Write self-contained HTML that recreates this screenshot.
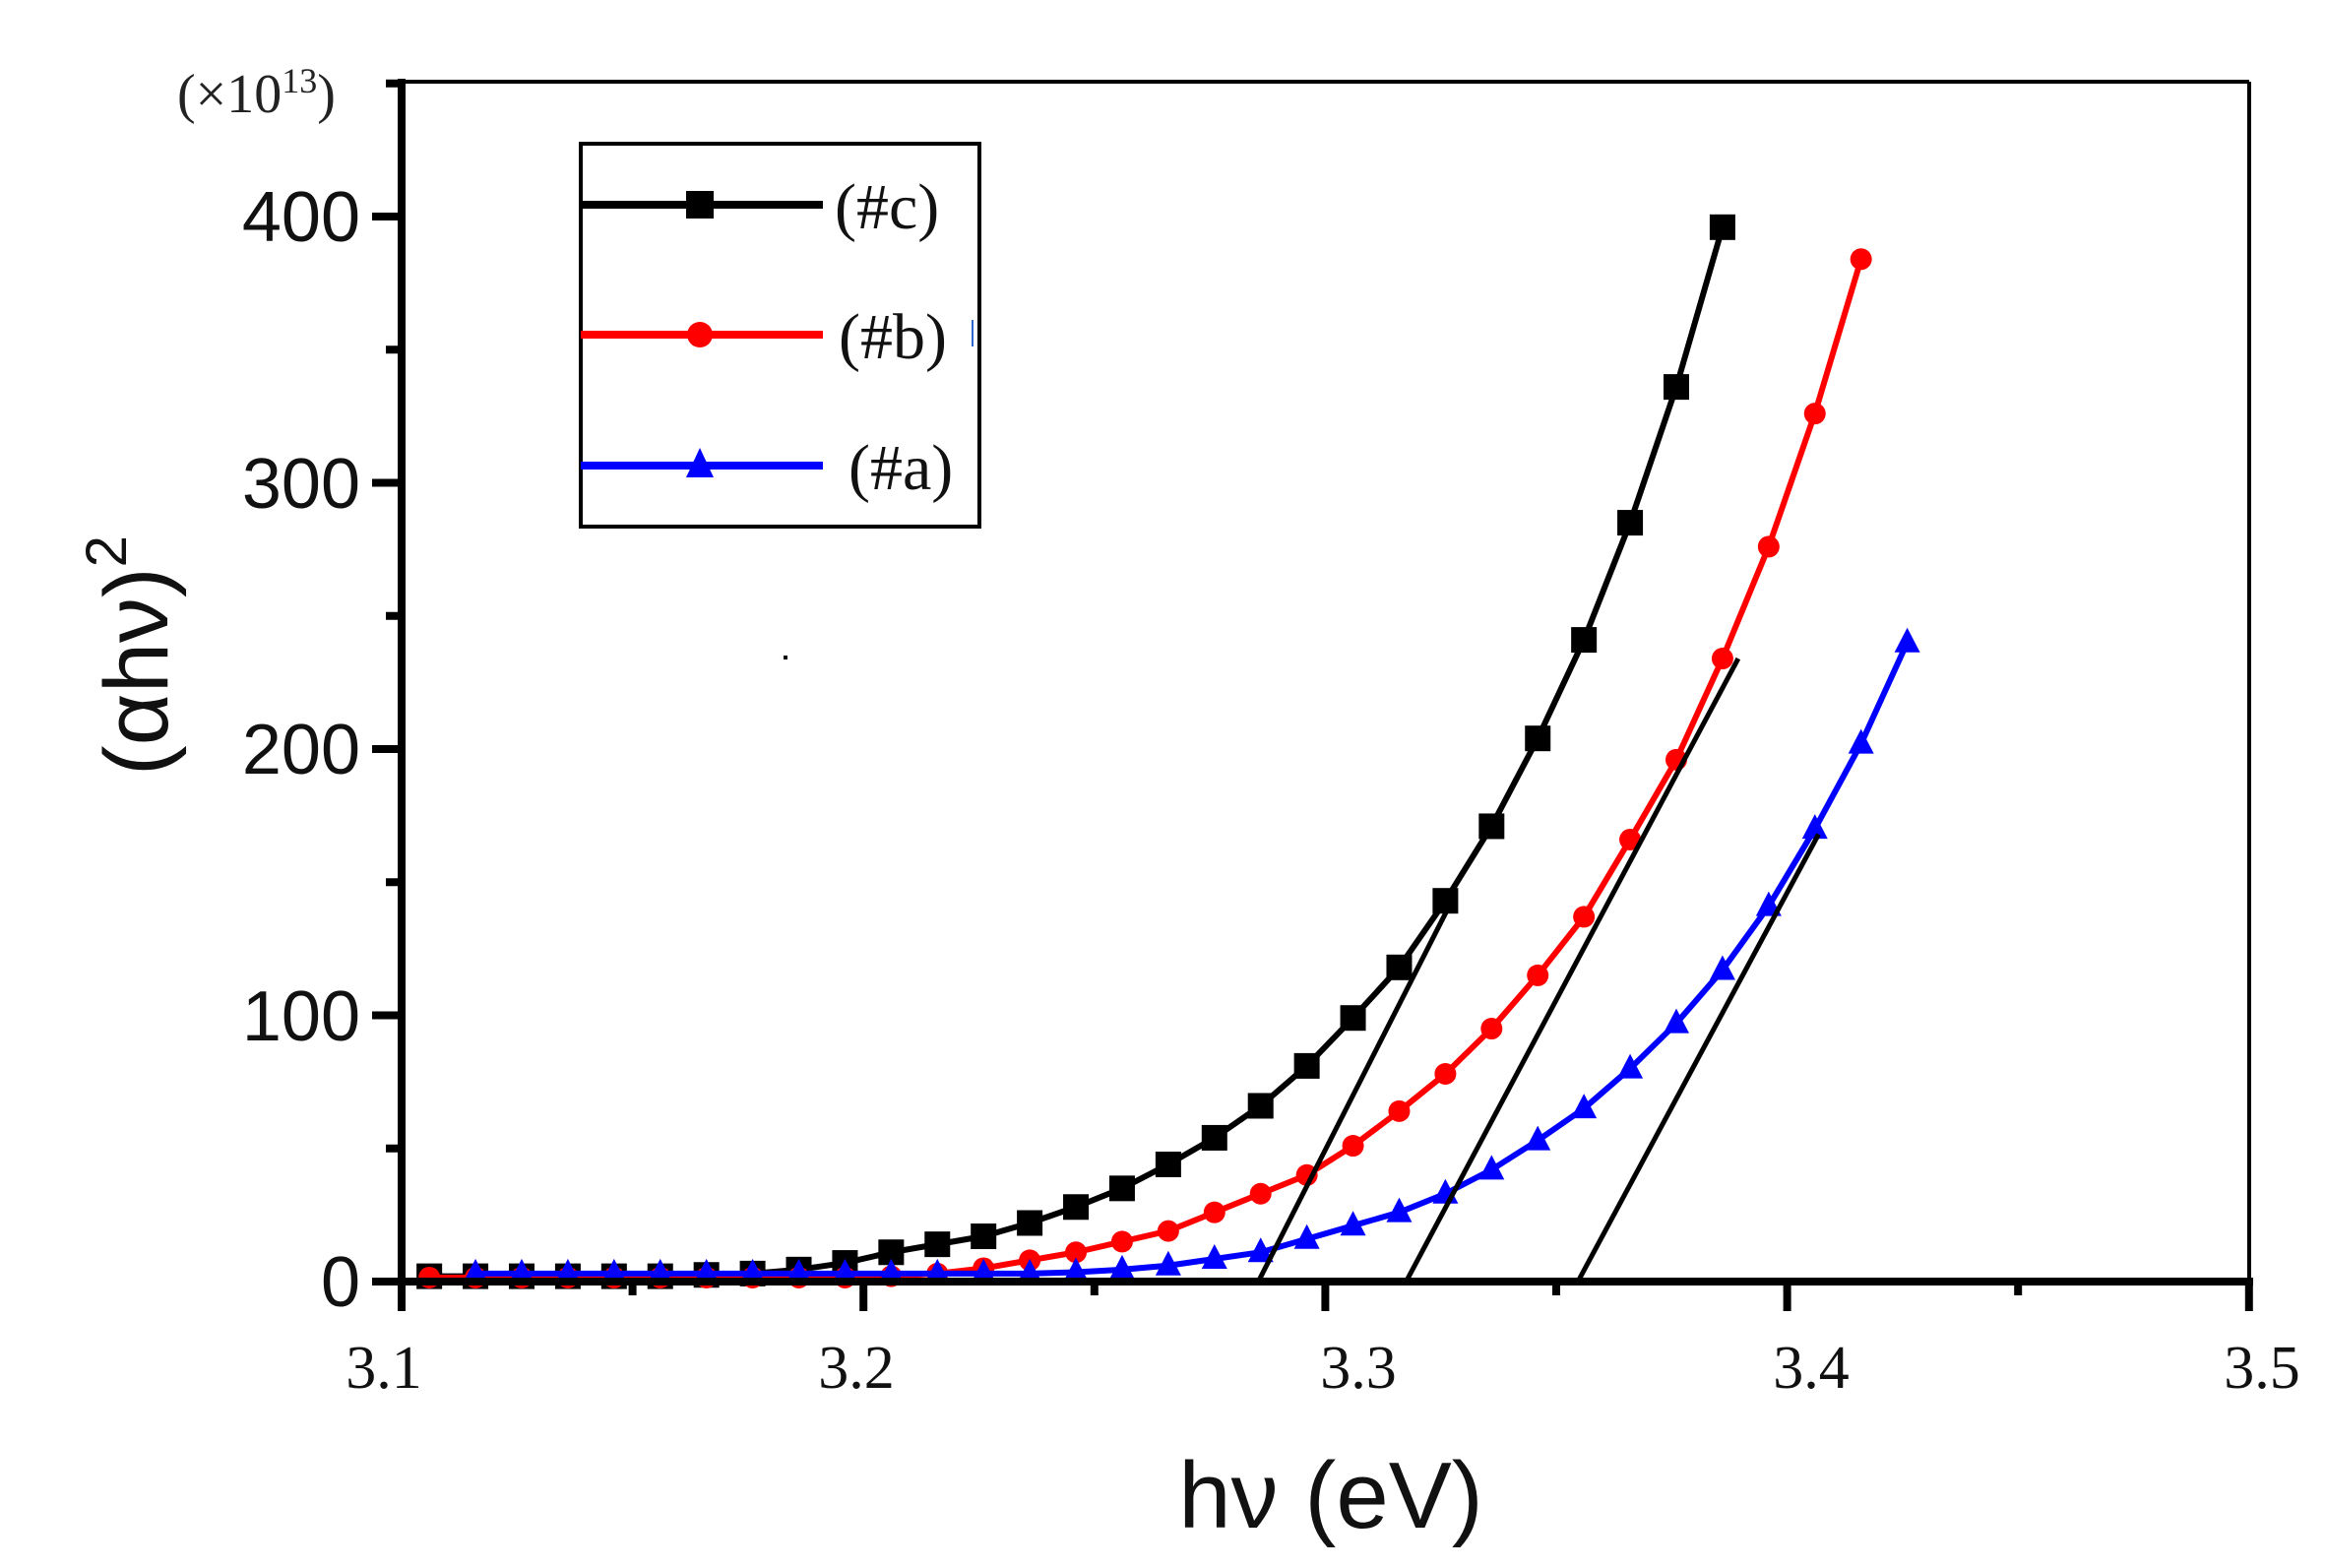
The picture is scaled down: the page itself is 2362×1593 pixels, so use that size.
<!DOCTYPE html>
<html><head><meta charset="utf-8"><style>
html,body{margin:0;padding:0;background:#fff;}
svg{display:block;}
</style></head><body>
<svg id="s" width="2362" height="1593" viewBox="0 0 2362 1593" xmlns="http://www.w3.org/2000/svg">
<rect width="2362" height="1593" fill="#fff"/>
<g id="data"></g>
<line x1="408" y1="83" x2="2285" y2="83" stroke="#000" stroke-width="4"/>
<line x1="2285" y1="83" x2="2285" y2="1302" stroke="#000" stroke-width="4"/>
<line x1="408" y1="80" x2="408" y2="1306" stroke="#000" stroke-width="8"/>
<line x1="404" y1="1302" x2="2289" y2="1302" stroke="#000" stroke-width="8"/>
<g id="ticks" stroke="#000" stroke-width="8"></g>
<g font-family="Liberation Sans, sans-serif" font-size="72" text-anchor="end" fill="#111">
<text x="366" y="245">400</text>
<text x="366" y="516">300</text>
<text x="366" y="786">200</text>
<text x="366" y="1057">100</text>
<text x="366" y="1327">0</text>
</g>
<g font-family="Liberation Serif, serif" font-size="62" text-anchor="middle" fill="#111">
<text x="390" y="1410">3.1</text>
<text x="870" y="1410">3.2</text>
<text x="1380" y="1410">3.3</text>
<text x="1840" y="1410">3.4</text>
<text x="2298" y="1410">3.5</text>
</g>
<text x="180" y="114" font-family="Liberation Serif, serif" font-size="56" fill="#222">(×10<tspan font-size="36" dy="-20">13</tspan><tspan dy="20">)</tspan></text>
<text x="1352" y="1552" font-family="Liberation Sans, sans-serif" font-size="96" text-anchor="middle" fill="#111">hν  (eV)</text>
<text transform="translate(170,666) rotate(-90)" font-family="Liberation Sans, sans-serif" font-size="92" text-anchor="middle" fill="#111">(αhν)<tspan font-size="58" dy="-42">2</tspan></text>
<rect x="590" y="146" width="405" height="389" fill="#fff" stroke="#000" stroke-width="4"/>
<line x1="590" y1="208" x2="836" y2="208" stroke="#000" stroke-width="8"/>
<rect x="697" y="194" width="28" height="28" fill="#000"/>
<line x1="590" y1="340" x2="836" y2="340" stroke="#f00" stroke-width="8"/>
<circle cx="711" cy="340" r="13" fill="#f00"/>
<line x1="590" y1="473" x2="836" y2="473" stroke="#00f" stroke-width="8"/>
<polygon points="711,455 697,485 725,485" fill="#00f"/>
<g font-family="Liberation Serif, serif" font-size="66" fill="#111">
<text x="848" y="232">(#c)</text>
<text x="852" y="364">(#b)</text>
<text x="862" y="497">(#a)</text>
</g>
<line x1="988" y1="325" x2="988" y2="352" stroke="#36c" stroke-width="2"/>
<rect x="796" y="666" width="4" height="4" fill="#000"/>
</svg>
<script>
var NS="http://www.w3.org/2000/svg";
function X(e){return 408+(e-3.1)*4692;}
function Y(v){return 1302-v*2.705;}
var g=document.getElementById('data');
function el(t,a){var e=document.createElementNS(NS,t);for(var k in a)e.setAttribute(k,a[k]);g.appendChild(e);return e;}
function series(top,last,col,mk){
  var n=32; var vals=[];
  for(var i=0;i<n;i++){
    var v = i<top.length?top[i]:Math.max(1.5,top[top.length-1]*Math.pow(0.75,i-top.length+1));
    vals.push(v);
  }
  var pts=[];
  for(var i=0;i<n;i++){var e=last-0.01*i; if(e<3.104)break; pts.push([X(e),Y(vals[i])]);}
  pts.reverse();
  el('polyline',{points:pts.map(p=>p.join(',')).join(' '),fill:'none',stroke:col,'stroke-width':6,'stroke-linejoin':'round'});
  pts.forEach(function(p){
    if(mk=='s')el('rect',{x:p[0]-13,y:p[1]-13,width:26,height:26,fill:col});
    else if(mk=='c')el('circle',{cx:p[0],cy:p[1],r:11,fill:col});
    else el('polygon',{points:(p[0])+','+(p[1]-15)+' '+(p[0]-13)+','+(p[1]+10)+' '+(p[0]+13)+','+(p[1]+10),fill:col});
  });
}
series([396,336,285,241,204,171,143,118,99,81,66,54,44,35,28,22,17,14,11,7,4.5,3,2.5,2,2,2,2,2,2,2,2,2],3.386,'#000','s');
series([384,326,276,234,196,166,137,115,95,78,64,51,40,33,26,19,15,11,8,5,3,2,1.5,1.5,1.5,1.5,1.5,1.5,1.5,1.5,1.5,1.5],3.416,'#f00','c');
series([240,202,170,141,117,97,80,65,53,42,33,26,21,16,11,8.5,6,4.5,3.5,3,3,3,3,3,3,3,3,3,3,3,3,3],3.426,'#00f','t');
[[3.2855,0,3.3274,143],[3.3175,0,3.3894,234],[3.3547,0,3.4068,168]].forEach(function(l){
  el('line',{x1:X(l[0]),y1:Y(l[1]),x2:X(l[2]),y2:Y(l[3]),stroke:'#000','stroke-width':5});
});
var t=document.getElementById('ticks');
function tk(a){var e=document.createElementNS(NS,'line');for(var k in a)e.setAttribute(k,a[k]);t.appendChild(e);}
for(var v=0;v<=450;v+=50){var y=Y(v);tk({x1:v%100==0?378:392,y1:y,x2:408,y2:y});}
for(var i=0;i<=8;i++){var x=X(3.1+0.05*i);tk({x1:x,y1:1302,x2:x,y2:i%2==0?1332:1316});}
</script>
</body></html>
